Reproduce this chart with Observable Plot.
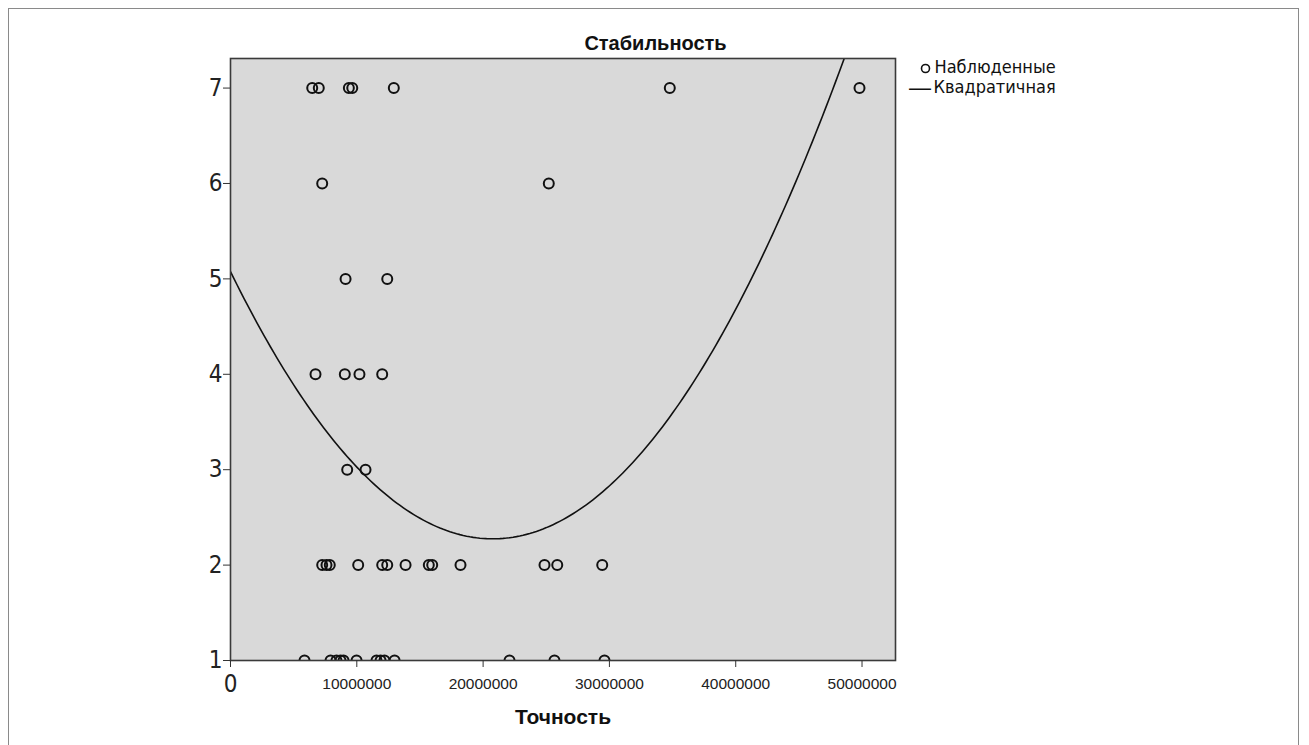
<!DOCTYPE html>
<html>
<head>
<meta charset="utf-8">
<script src="https://cdn.jsdelivr.net/npm/d3@7"></script>
<script src="https://cdn.jsdelivr.net/npm/@observablehq/plot@0.6"></script>
<style>
  html, body { margin: 0; padding: 0; background: #fff; overflow: hidden; }
  #wrap { position: relative; width: 1309px; height: 745px; }
  #border { position: absolute; left: 8px; top: 8px; width: 1291px; height: 760px; border: 1px solid #8a8a8a; box-sizing: border-box; pointer-events: none; }
</style>
</head>
<body>
<div id="wrap"><div id="border"></div></div>
<script>
// Observed points: precision (Точность) and stability (Стабильность)
const precision = [
  5860000, 7920000, 8390000, 8710000, 8950000, 9980000, 11560000, 11880000, 12190000, 12990000, 22090000, 25650000, 29610000,
  7260000, 7600000, 7860000, 10110000, 12010000, 12410000, 13860000, 15700000, 15970000, 18210000, 24860000, 25870000, 29430000,
  9240000, 10690000,
  6730000, 9050000, 10210000, 12010000,
  9110000, 12410000,
  7260000, 25200000,
  6470000, 6990000, 9370000, 9640000, 12930000, 34780000, 49800000
];
const stability = [
  1, 1, 1, 1, 1, 1, 1, 1, 1, 1, 1, 1, 1,
  2, 2, 2, 2, 2, 2, 2, 2, 2, 2, 2, 2, 2,
  3, 3,
  4, 4, 4, 4,
  5, 5,
  6, 6,
  7, 7, 7, 7, 7, 7, 7
];
const xTicks = [10000000, 20000000, 30000000, 40000000, 50000000];
const yTicks = [1, 2, 3, 4, 5, 6, 7];
const titleText = "Стабильность";
const xLabel = "Точность";
const legendLabels = ["Наблюденные", "Квадратичная"];

const obs = precision.map((x, i) => ({x, y: stability[i]}));

// Quadratic least-squares fit (x in millions for numerical stability)
function quadFit(xs, ys) {
  const S = Array(5).fill(0), T = Array(3).fill(0);
  xs.forEach((x, i) => {
    for (let k = 0; k < 5; k++) S[k] += x ** k;
    for (let k = 0; k < 3; k++) T[k] += ys[i] * x ** k;
  });
  const A = [[S[0], S[1], S[2], T[0]], [S[1], S[2], S[3], T[1]], [S[2], S[3], S[4], T[2]]];
  for (let c = 0; c < 3; c++) {
    for (let r = c + 1; r < 3; r++) {
      const f = A[r][c] / A[c][c];
      for (let k = c; k < 4; k++) A[r][k] -= f * A[c][k];
    }
  }
  const b = [0, 0, 0];
  for (let r = 2; r >= 0; r--) {
    let s = A[r][3];
    for (let k = r + 1; k < 3; k++) s -= A[r][k] * b[k];
    b[r] = s / A[r][r];
  }
  return b;
}
const coef = quadFit(precision.map(d => d / 1e6), stability);
const xMax = 52650000;
const fitLine = d3.range(0, 200 + 1).map(i => {
  const xm = (xMax / 1e6) * i / 200;
  return {x: xm * 1e6, y: coef[0] + coef[1] * xm + coef[2] * xm * xm};
});

const narrow = "'Liberation Sans Narrow', 'DejaVu Sans Condensed', 'Open Sans', sans-serif";
const arial = "Arial, 'Liberation Sans', sans-serif";

const chart = Plot.plot({
  width: 1309,
  height: 745,
  marginLeft: 230,
  marginRight: 414,
  marginTop: 58,
  marginBottom: 85,
  x: {domain: [0, xMax]},
  y: {domain: [1, 7.31]},
  style: {background: "transparent", overflow: "visible", fontFamily: arial},
  marks: [
    Plot.frame({fill: "#d9d9d9", stroke: "none"}),
    Plot.line(fitLine, {x: "x", y: "y", stroke: "#111", strokeWidth: 1.6, clip: true}),
    Plot.dot(obs, {x: "x", y: "y", r: 5, stroke: "#111", strokeWidth: 2, fill: "none", clip: true}),
    Plot.frame({stroke: "#3a3a3a", strokeWidth: 1.6}),
    Plot.axisY({ticks: yTicks, tickSize: 7, tickPadding: 1, fontSize: 24, fontFamily: narrow, stroke: "#333", fill: "#222", tickFormat: d => String(d), label: null}),
    Plot.axisX({ticks: xTicks, tickSize: 7, tickPadding: 10, fontSize: 15.5, fontFamily: arial, fill: "#222", stroke: "#333", tickFormat: d => String(d), label: null}),
    Plot.axisX({ticks: [0], tickSize: 7, tickPadding: 7, fontSize: 24, fontFamily: narrow, fill: "#222", stroke: "#333", tickFormat: d => String(d), label: null}),
    Plot.text([xLabel], {frameAnchor: "bottom", dy: 57, lineAnchor: "middle", fontSize: 21, fontWeight: "bold", fill: "#111", fontFamily: arial}),
    Plot.text([titleText], {frameAnchor: "top-right", dx: -240, dy: -15, lineAnchor: "middle", textAnchor: "middle", fontSize: 20, fontWeight: "bold", fill: "#111", fontFamily: arial}),
    Plot.dot([legendLabels[0]], {frameAnchor: "top-right", dx: 30, dy: 10, r: 4, stroke: "#111", strokeWidth: 1.6, fill: "none"}),
    Plot.text([legendLabels[0]], {frameAnchor: "top-right", dx: 39, dy: 9, lineAnchor: "middle", textAnchor: "start", fontSize: 18, fontFamily: narrow, fill: "#111"}),
    Plot.text(["—"], {frameAnchor: "top-right", dx: 24.5, dy: 29, lineAnchor: "middle", textAnchor: "middle", fontSize: 22, fontFamily: arial, fill: "#111"}),
    Plot.text([legendLabels[1]], {frameAnchor: "top-right", dx: 38, dy: 29, lineAnchor: "middle", textAnchor: "start", fontSize: 18, fontFamily: narrow, fill: "#111"})
  ]
});
chart.style.position = "absolute";
chart.style.left = "0px";
chart.style.top = "0px";
document.getElementById("wrap").appendChild(chart);
</script>
</body>
</html>
